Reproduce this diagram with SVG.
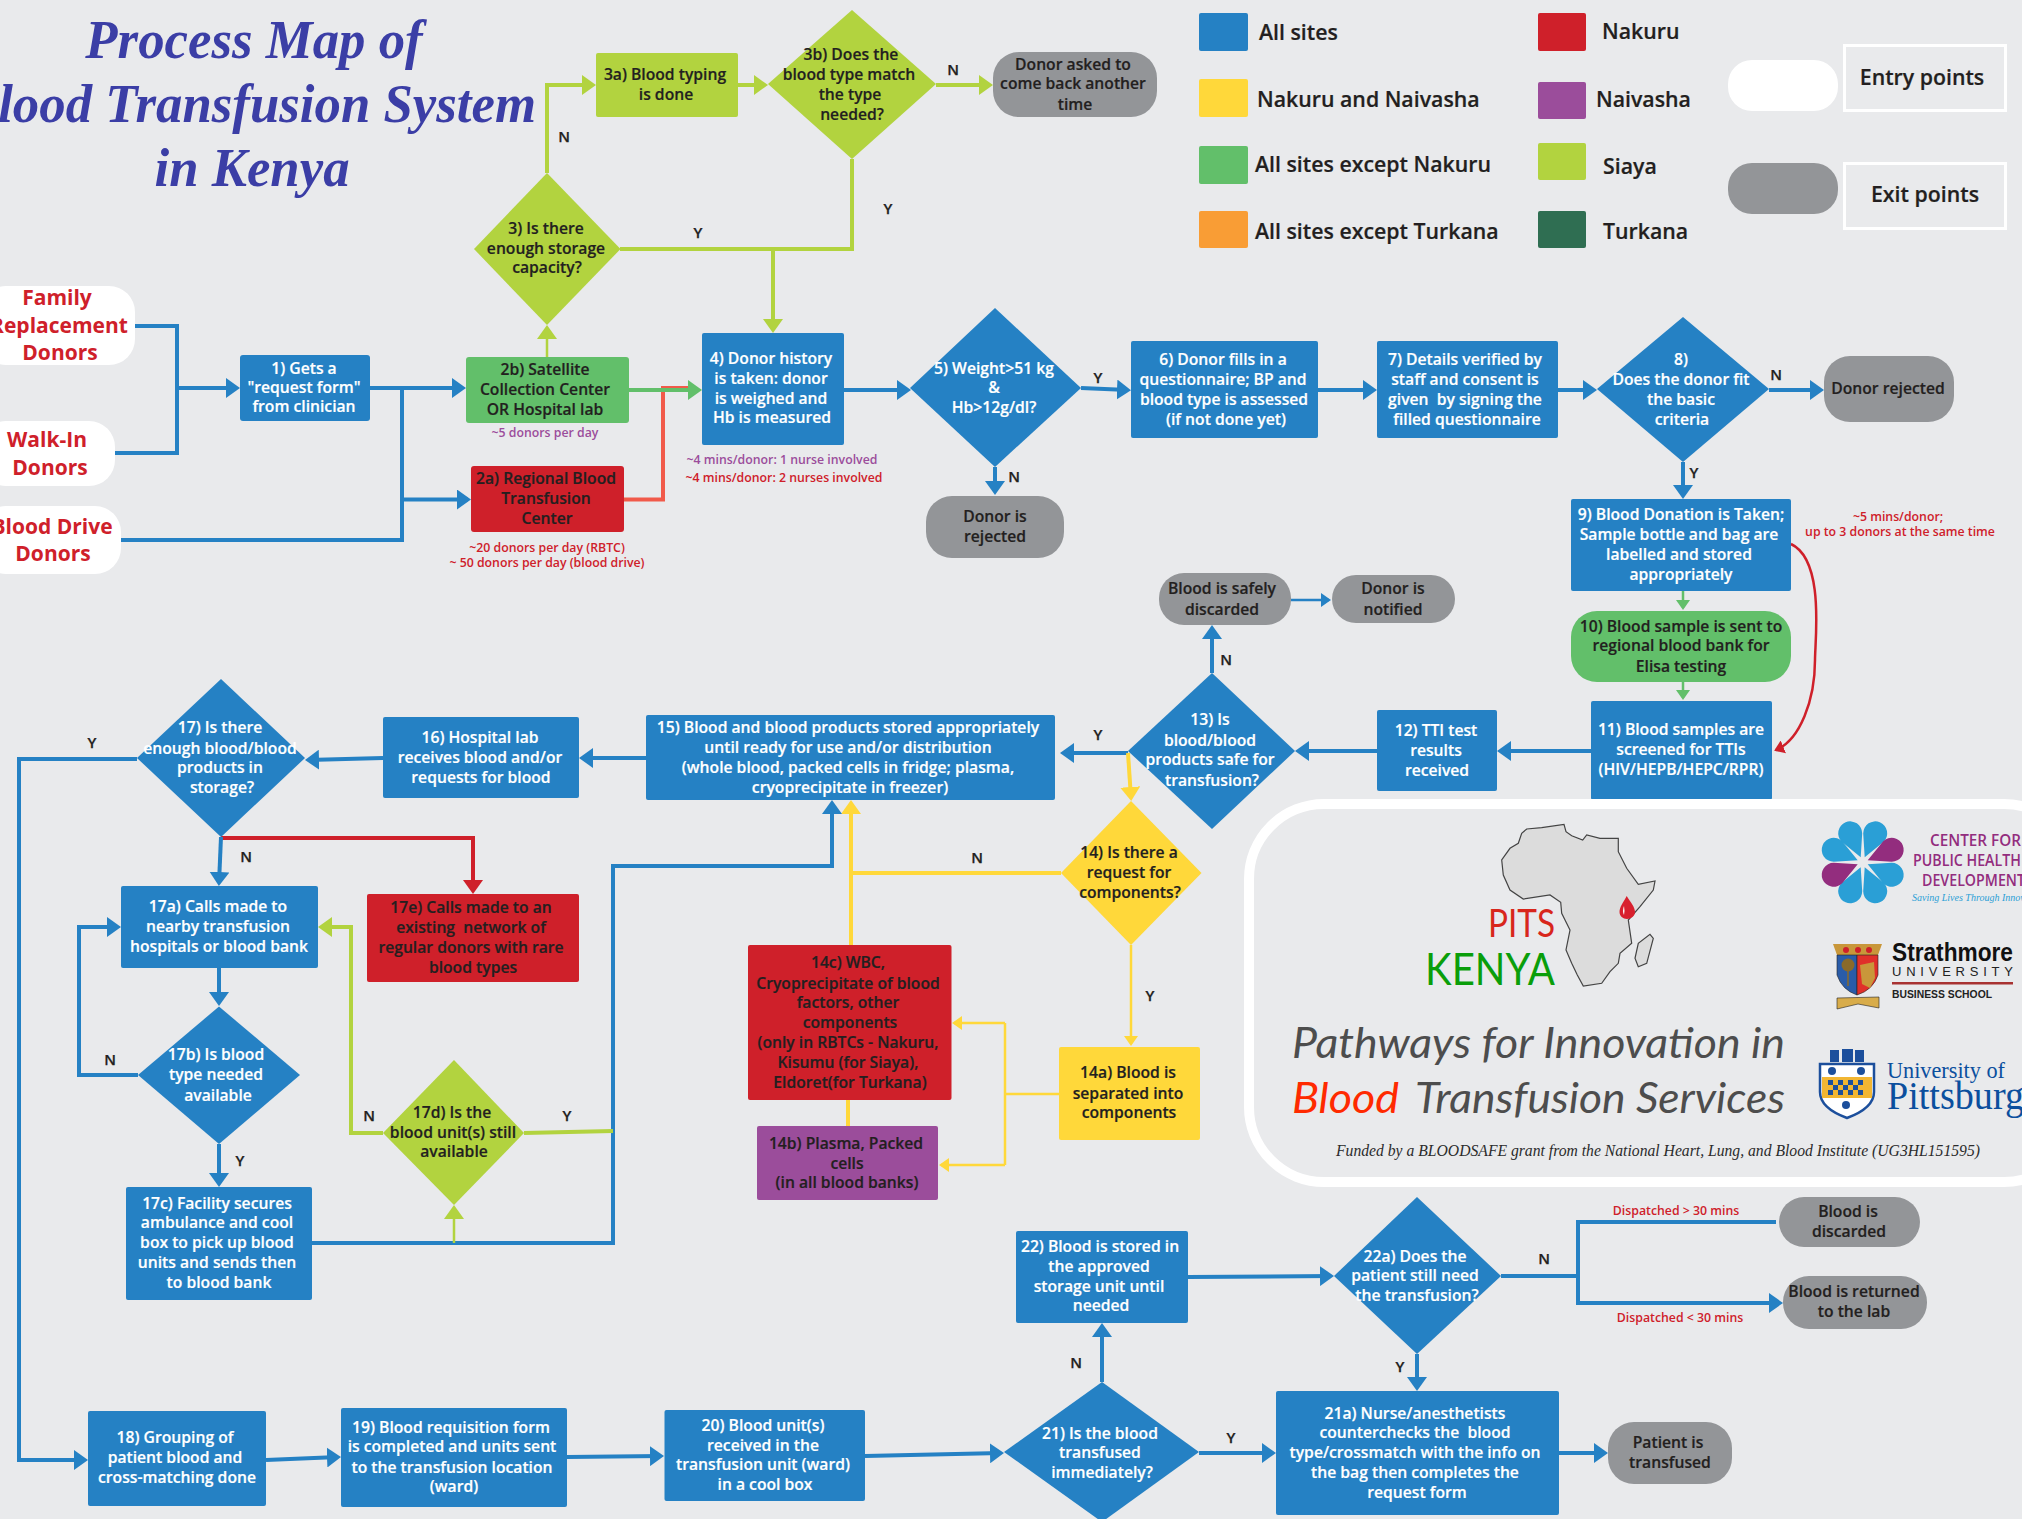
<svg xmlns="http://www.w3.org/2000/svg" width="2022" height="1519" viewBox="0 0 2022 1519">
<style>
text{font-family:"Open Sans","Liberation Sans",sans-serif;font-weight:600;font-size:15.7px;text-anchor:middle;fill:#231f20}
.w text{fill:#fff;stroke:#fff;stroke-width:.2}
.d text{stroke:#231f20;stroke-width:.2}
.small{font-size:12.3px}
.r{fill:#cf202a}
.p{fill:#9b4d9b}
.lbl{font-size:15px;stroke:#231f20;stroke-width:.25}
.ent{font-size:21px;font-weight:700;fill:#cf202a}
.lg{font-size:21.3px;text-anchor:start;stroke:#231f20;stroke-width:.2}
.ttl{font-family:"Liberation Serif",serif;font-style:italic;font-weight:700;font-size:55px;fill:#3b3ea6}
.blue{fill:#2581c4}.lime{fill:#b2d33f}.red{fill:#cf202a}.yel{fill:#ffd83a}.grn{fill:#62bf6a}.pur{fill:#9b4d9b}.gry{fill:#939598}.wht{fill:#fff}
.c{fill:none;stroke-width:4;stroke-linejoin:miter}
.cb{stroke:#2581c4}.cl{stroke:#b2d33f}.cy{stroke:#ffd83a}.cg{stroke:#62bf6a}.cr{stroke:#cf202a}.co{stroke:#f15a4a}
.t{stroke-width:2.5}
.pw{font-family:"Lato","Liberation Sans",sans-serif;font-style:italic;font-weight:400;font-size:43px;fill:#4d4d4d;text-anchor:start}
.pit{font-family:"Lato","Liberation Sans",sans-serif;font-weight:400;text-anchor:start}
.cp{font-size:15.5px;fill:#932d7e;text-anchor:start}
</style>
<defs>
<marker id="ab" markerUnits="userSpaceOnUse" markerWidth="14" markerHeight="20" viewBox="0 0 14 20" refX="11" refY="10" orient="auto"><path d="M0 0L14 10L0 20Z" fill="#2581c4"/></marker>
<marker id="al" markerUnits="userSpaceOnUse" markerWidth="14" markerHeight="20" viewBox="0 0 14 20" refX="11" refY="10" orient="auto"><path d="M0 0L14 10L0 20Z" fill="#b2d33f"/></marker>
<marker id="ag" markerUnits="userSpaceOnUse" markerWidth="14" markerHeight="20" viewBox="0 0 14 20" refX="11" refY="10" orient="auto"><path d="M0 0L14 10L0 20Z" fill="#62bf6a"/></marker>
<marker id="ay" markerUnits="userSpaceOnUse" markerWidth="14" markerHeight="20" viewBox="0 0 14 20" refX="11" refY="10" orient="auto"><path d="M0 0L14 10L0 20Z" fill="#ffd83a"/></marker>
<marker id="ar" markerUnits="userSpaceOnUse" markerWidth="14" markerHeight="20" viewBox="0 0 14 20" refX="11" refY="10" orient="auto"><path d="M0 0L14 10L0 20Z" fill="#cf202a"/></marker>
<marker id="sy" markerUnits="userSpaceOnUse" markerWidth="10" markerHeight="14" viewBox="0 0 10 14" refX="8" refY="7" orient="auto"><path d="M0 0L10 7L0 14Z" fill="#ffd83a"/></marker>
<marker id="sg" markerUnits="userSpaceOnUse" markerWidth="10" markerHeight="14" viewBox="0 0 10 14" refX="8" refY="7" orient="auto"><path d="M0 0L10 7L0 14Z" fill="#62bf6a"/></marker>
<marker id="sr" markerUnits="userSpaceOnUse" markerWidth="10" markerHeight="14" viewBox="0 0 10 14" refX="8" refY="7" orient="auto"><path d="M0 0L10 7L0 14Z" fill="#cf202a"/></marker>
<marker id="sb" markerUnits="userSpaceOnUse" markerWidth="10" markerHeight="14" viewBox="0 0 10 14" refX="8" refY="7" orient="auto"><path d="M0 0L10 7L0 14Z" fill="#2581c4"/></marker>
<path id="petal" d="M2,-5L.5,-29A12,12 0 1 1 21,-20.500Z"/>
</defs>
<rect width="2022" height="1519" fill="#e9eaec"/>

<g id="title">
<text class="ttl" transform="translate(254 58) scale(.96 1)">Process Map of</text>
<text class="ttl" transform="translate(536 122) scale(.96 1)" style="text-anchor:end">Blood Transfusion System</text>
<text class="ttl" transform="translate(252 186) scale(.96 1)">in Kenya</text>
</g>

<g id="legend">
<rect x="1199" y="13" width="49" height="38" rx="2" class="blue"/><text class="lg" x="1259" y="40">All sites</text>
<rect x="1199" y="79" width="49" height="38" rx="2" class="yel"/><text class="lg" x="1257" y="107">Nakuru and Naivasha</text>
<rect x="1199" y="146" width="49" height="38" rx="2" class="grn"/><text class="lg" x="1255" y="172">All sites except Nakuru</text>
<rect x="1199" y="211" width="49" height="37" rx="2" fill="#f99d35"/><text class="lg" x="1255" y="239">All sites except Turkana</text>
<rect x="1538" y="13" width="48" height="38" rx="2" class="red"/><text class="lg" x="1602" y="39">Nakuru</text>
<rect x="1538" y="82" width="48" height="37" rx="2" class="pur"/><text class="lg" x="1596" y="107">Naivasha</text>
<rect x="1538" y="143" width="48" height="37" rx="2" class="lime"/><text class="lg" x="1603" y="174">Siaya</text>
<rect x="1538" y="211" width="48" height="37" rx="2" fill="#2f6e52"/><text class="lg" x="1603" y="239">Turkana</text>
<rect x="1728" y="60" width="110" height="51" rx="24" class="wht"/>
<rect x="1844.500" y="45.500" width="161" height="65" fill="none" stroke="#fff" stroke-width="3"/>
<text class="lg" x="1922" y="85" style="text-anchor:middle">Entry points</text>
<rect x="1728" y="163" width="110" height="51" rx="24" class="gry"/>
<rect x="1844.500" y="163.500" width="161" height="65" fill="none" stroke="#fff" stroke-width="3"/>
<text class="lg" x="1925" y="202" style="text-anchor:middle">Exit points</text>
</g>

<g id="connectors">
<path class="c cb" d="M135 326H177V453H115"/>
<path class="c cb" d="M177 388H237" marker-end="url(#ab)"/>
<path class="c cb" d="M370 388H463" marker-end="url(#ab)"/>
<path class="c cb" d="M121 540H402V388"/>
<path class="c cb" d="M402 499.500H468" marker-end="url(#ab)"/>
<path class="c cl t" d="M547 357V328" marker-end="url(#al)"/>
<path class="c cl" d="M547 173V85H593" marker-end="url(#al)"/>
<path class="c cl" d="M738 85H765" marker-end="url(#al)"/>
<path class="c cl" d="M936 85H990" marker-end="url(#al)"/>
<path class="c cl" d="M852 159V249H620"/>
<path class="c cl" d="M773 249V330" marker-end="url(#al)"/>
<path class="c co" d="M624 499.500H663V388H692"/>
<path class="c cg" d="M629 390H699" marker-end="url(#ag)"/>
<path class="c cb" d="M844 390H908" marker-end="url(#ab)"/>
<path class="c cb" d="M995 467V492" marker-end="url(#ab)"/>
<path class="c cb" d="M1081 388L1128 390" marker-end="url(#ab)"/>
<path class="c cb" d="M1318 390H1374" marker-end="url(#ab)"/>
<path class="c cb" d="M1558 390H1594" marker-end="url(#ab)"/>
<path class="c cb" d="M1769 390H1821" marker-end="url(#ab)"/>
<path class="c cb" d="M1683 462V496" marker-end="url(#ab)"/>
<path class="c cg t" d="M1683 591V608" marker-end="url(#sg)"/>
<path class="c cg t" d="M1683 682V698" marker-end="url(#sg)"/>
<path class="c cr t" d="M1791 544C1825 560 1815 640 1815 660C1815 700 1800 740 1776 750" marker-end="url(#sr)"/>
<path class="c cb" d="M1591 751H1500" marker-end="url(#ab)"/>
<path class="c cb" d="M1377 751H1298" marker-end="url(#ab)"/>
<path class="c cb" d="M1128 753H1063" marker-end="url(#ab)"/>
<path class="c cb" d="M1212 673V628" marker-end="url(#ab)"/>
<path class="c cb t" d="M1291 600H1329" marker-end="url(#sb)"/>
<path class="c cy" d="M1128 753L1131 798" marker-end="url(#ay)"/>
<path class="c cy" d="M1061 873H851"/>
<path class="c cy" d="M851 945V803" marker-end="url(#ay)"/>
<path class="c cy t" d="M1131 945V1044" marker-end="url(#sy)"/>
<path class="c cy t" d="M1059 1094H1005"/>
<path class="c cy t" d="M1005 1023V1165"/>
<path class="c cy t" d="M1005 1023H954" marker-end="url(#sy)"/>
<path class="c cy t" d="M1005 1165H941" marker-end="url(#sy)"/>
<path class="c cy" d="M848 1100V1126"/>
<path class="c cb" d="M646 758H582" marker-end="url(#ab)"/>
<path class="c cb" d="M383 758L308 760" marker-end="url(#ab)"/>
<path class="c cb" d="M137 759H19V1460H85" marker-end="url(#ab)"/>
<path class="c cr" d="M221 838H473V891" marker-end="url(#ar)"/>
<path class="c cb" d="M221 837L219 883" marker-end="url(#ab)"/>
<path class="c cb" d="M219 968V1003" marker-end="url(#ab)"/>
<path class="c cb" d="M138 1075H79V927H118" marker-end="url(#ab)"/>
<path class="c cb" d="M219 1144V1184" marker-end="url(#ab)"/>
<path class="c cb" d="M312 1243H613V866H832V803" marker-end="url(#ab)"/>
<path class="c cl t" d="M454 1243V1208" marker-end="url(#al)"/>
<path class="c cl" d="M524 1133L613 1131"/>
<path class="c cl" d="M383 1133H351V927H321" marker-end="url(#al)"/>
<path class="c cb" d="M266 1460L338 1457" marker-end="url(#ab)"/>
<path class="c cb" d="M567 1457L661 1456" marker-end="url(#ab)"/>
<path class="c cb" d="M865 1456L1001 1453" marker-end="url(#ab)"/>
<path class="c cb" d="M1102 1382V1326" marker-end="url(#ab)"/>
<path class="c cb" d="M1199 1453H1273" marker-end="url(#ab)"/>
<path class="c cb" d="M1559 1453H1605" marker-end="url(#ab)"/>
<path class="c cb" d="M1417 1354V1388" marker-end="url(#ab)"/>
<path class="c cb" d="M1188 1277L1331 1276" marker-end="url(#ab)"/>
<path class="c cb" d="M1501 1276H1578"/>
<path class="c cb" d="M1776 1222H1578V1303H1780" marker-end="url(#ab)"/>
</g>

<g id="connector-labels">
<text class="lbl" x="564" y="142">N</text>
<text class="lbl" x="953" y="75">N</text>
<text class="lbl" x="888" y="214">Y</text>
<text class="lbl" x="698" y="238">Y</text>
<text class="lbl" x="1098" y="383">Y</text>
<text class="lbl" x="1014" y="482">N</text>
<text class="lbl" x="1776" y="380">N</text>
<text class="lbl" x="1694" y="478">Y</text>
<text class="lbl" x="92" y="748">Y</text>
<text class="lbl" x="246" y="862">N</text>
<text class="lbl" x="110" y="1065">N</text>
<text class="lbl" x="240" y="1166">Y</text>
<text class="lbl" x="369" y="1121">N</text>
<text class="lbl" x="567" y="1121">Y</text>
<text class="lbl" x="1226" y="665">N</text>
<text class="lbl" x="1098" y="740">Y</text>
<text class="lbl" x="977" y="863">N</text>
<text class="lbl" x="1150" y="1001">Y</text>
<text class="lbl" x="1544" y="1264">N</text>
<text class="lbl" x="1400" y="1372">Y</text>
<text class="lbl" x="1076" y="1368">N</text>
<text class="lbl" x="1231" y="1443">Y</text>
<text class="small p" x="545" y="437">~5 donors per day</text>
<text class="small p" x="782" y="464">~4 mins/donor: 1 nurse involved</text>
<text class="small r" x="784" y="482">~4 mins/donor: 2 nurses involved</text>
<text class="small r" x="547" y="552">~20 donors per day (RBTC)</text>
<text class="small r" x="547" y="567">~ 50 donors per day (blood drive)</text>
<text class="small r" x="1898" y="521">~5 mins/donor;</text>
<text class="small r" x="1900" y="536">up to 3 donors at the same time</text>
<text class="small r" x="1676" y="1215">Dispatched &gt; 30 mins</text>
<text class="small r" x="1680" y="1322">Dispatched &lt; 30 mins</text>
</g>

<g id="entry-family"><rect x="-20" y="286" width="155" height="79" rx="26" class="wht"/><text class="ent" x="57" y="305">Family</text><text class="ent" x="59" y="333">Replacement</text><text class="ent" x="60" y="360">Donors</text></g>
<g id="entry-walkin"><rect x="-20" y="421" width="135" height="65" rx="26" class="wht"/><text class="ent" x="47" y="447">Walk-In</text><text class="ent" x="50" y="475">Donors</text></g>
<g id="entry-drive"><rect x="-20" y="506" width="141" height="68" rx="26" class="wht"/><text class="ent" x="52" y="534">Blood Drive</text><text class="ent" x="53" y="561">Donors</text></g>

<g id="n1" class="w"><rect x="240" y="355" width="130" height="66" rx="3" class="blue"/><text x="304" y="374">1) Gets a</text><text x="304" y="393">"request form"</text><text x="304" y="412">from clinician</text></g>
<g id="n2b" class="d"><rect x="466" y="357" width="163" height="66" rx="3" class="grn"/><text x="545" y="375">2b) Satellite</text><text x="545" y="395">Collection Center</text><text x="545" y="415">OR Hospital lab</text></g>
<g id="n2a" class="d"><rect x="471" y="466" width="153" height="66" rx="3" class="red"/><text x="546" y="484">2a) Regional Blood</text><text x="546" y="504">Transfusion</text><text x="547" y="524">Center</text></g>
<g id="n3" class="d"><path d="M547 173L620.500 249L547 325L474 249Z" class="lime"/><text x="546" y="234">3) Is there</text><text x="546" y="254">enough storage</text><text x="547" y="273">capacity?</text></g>
<g id="n3a" class="d"><rect x="596" y="53" width="142" height="64" rx="2" class="lime"/><text x="665" y="80">3a) Blood typing</text><text x="666" y="100">is done</text></g>
<g id="n3b" class="d"><path d="M852 10L936 84L852 159L768 84Z" class="lime"/><text x="851" y="60">3b) Does the</text><text x="849" y="80">blood type match</text><text x="850" y="100">the type</text><text x="852" y="120">needed?</text></g>
<g id="donor-asked" class="d"><rect x="993" y="52" width="164" height="65" rx="26" class="gry"/><text x="1073" y="70">Donor asked to</text><text x="1073" y="89">come back another</text><text x="1075" y="110">time</text></g>
<g id="n4" class="w"><rect x="702" y="333" width="142" height="112" rx="2" class="blue"/><text x="771" y="364">4) Donor history</text><text x="771" y="384">is taken: donor</text><text x="771" y="404">is weighed and</text><text x="772" y="423">Hb is measured</text></g>
<g id="n5" class="w"><path d="M995 308L1081 388L995 467L910 388Z" class="blue"/><text x="994" y="374">5) Weight&gt;51 kg</text><text x="994" y="393">&amp;</text><text x="994" y="413">Hb&gt;12g/dl?</text></g>
<g id="rej5" class="d"><rect x="926" y="496" width="138" height="62" rx="26" class="gry"/><text x="995" y="522">Donor is</text><text x="995" y="542">rejected</text></g>
<g id="n6" class="w"><rect x="1131" y="341" width="187" height="97" rx="2" class="blue"/><text x="1223" y="365">6) Donor fills in a</text><text x="1223" y="385">questionnaire; BP and</text><text x="1224" y="405">blood type is assessed</text><text x="1226" y="425">(if not done yet)</text></g>
<g id="n7" class="w"><rect x="1377" y="341" width="181" height="97" rx="2" class="blue"/><text x="1465" y="365">7) Details verified by</text><text x="1465" y="385">staff and consent is</text><text x="1465" y="405" xml:space="preserve">given  by signing the</text><text x="1467" y="425">filled questionnaire</text></g>
<g id="n8" class="w"><path d="M1683 317L1769 389L1683 462L1597 389Z" class="blue"/><text x="1681" y="365">8)</text><text x="1681" y="385">Does the donor fit</text><text x="1681" y="405">the basic</text><text x="1682" y="425">criteria</text></g>
<g id="rej8" class="d"><rect x="1824" y="356" width="130" height="66" rx="26" class="gry"/><text x="1888" y="394">Donor rejected</text></g>
<g id="n9" class="w"><rect x="1571" y="499" width="220" height="92" rx="2" class="blue"/><text x="1681" y="520">9) Blood Donation is Taken;</text><text x="1679" y="540">Sample bottle and bag are</text><text x="1679" y="560">labelled and stored</text><text x="1681" y="580">appropriately</text></g>
<g id="n10" class="d"><rect x="1571" y="611" width="220" height="71" rx="26" class="grn"/><text x="1681" y="632">10) Blood sample is sent to</text><text x="1681" y="651">regional blood bank for</text><text x="1681" y="672">Elisa testing</text></g>
<g id="n11" class="w"><rect x="1591" y="701" width="181" height="99" rx="2" class="blue"/><text x="1681" y="735">11) Blood samples are</text><text x="1681" y="755">screened for TTIs</text><text x="1681" y="775">(HIV/HEPB/HEPC/RPR)</text></g>
<g id="n12" class="w"><rect x="1377" y="710" width="120" height="81" rx="2" class="blue"/><text x="1436" y="736">12) TTI test</text><text x="1436" y="756">results</text><text x="1437" y="776">received</text></g>
<g id="n13" class="w"><path d="M1212 673L1295 751L1212 829L1128 751Z" class="blue"/><text x="1210" y="725">13) Is</text><text x="1210" y="746">blood/blood</text><text x="1210" y="765">products safe for</text><text x="1212" y="786">transfusion?</text></g>
<g id="discard" class="d"><rect x="1159" y="573" width="132" height="52" rx="25" class="gry"/><text x="1222" y="594">Blood is safely</text><text x="1222" y="615">discarded</text></g>
<g id="notified" class="d"><rect x="1332" y="575" width="123" height="48" rx="24" class="gry"/><text x="1393" y="594">Donor is</text><text x="1393" y="615">notified</text></g>
<g id="n15" class="w"><rect x="646" y="715" width="409" height="85" rx="2" class="blue"/><text x="848" y="733">15) Blood and blood products stored appropriately</text><text x="848" y="753">until ready for use and/or distribution</text><text x="848" y="773">(whole blood, packed cells in fridge; plasma,</text><text x="850" y="793">cryoprecipitate in freezer)</text></g>
<g id="n16" class="w"><rect x="383" y="717" width="196" height="81" rx="2" class="blue"/><text x="480" y="743">16) Hospital lab</text><text x="480" y="763">receives blood and/or</text><text x="481" y="783">requests for blood</text></g>
<g id="n17" class="w"><path d="M221 679L305 758L221 837L137 758Z" class="blue"/><text x="220" y="733">17) Is there</text><text x="220" y="754">enough blood/blood</text><text x="220" y="773">products in</text><text x="222" y="793">storage?</text></g>
<g id="n14" class="d"><path d="M1131 801L1201.500 873L1131 945L1061 873Z" class="yel"/><text x="1129" y="858">14) Is there a</text><text x="1129" y="878">request for</text><text x="1130" y="898">components?</text></g>
<g id="n14a" class="d"><rect x="1059" y="1047" width="141" height="93" rx="2" class="yel"/><text x="1128" y="1078">14a) Blood is</text><text x="1128" y="1099">separated into</text><text x="1129" y="1118">components</text></g>
<g id="n14c" class="d"><rect x="748" y="945" width="203.500" height="155" rx="2" class="red"/><text x="848" y="968">14c) WBC,</text><text x="848" y="989">Cryoprecipitate of blood</text><text x="848" y="1008">factors, other</text><text x="850" y="1028">components</text><text x="848" y="1048">(only in RBTCs - Nakuru,</text><text x="848" y="1068">Kisumu (for Siaya),</text><text x="850" y="1088">Eldoret(for Turkana)</text></g>
<g id="n14b" class="d"><rect x="757" y="1126" width="181" height="74" rx="2" class="pur"/><text x="846" y="1149">14b) Plasma, Packed</text><text x="847" y="1169">cells</text><text x="847" y="1188">(in all blood banks)</text></g>
<g id="n17a" class="w"><rect x="121" y="886" width="197" height="82" rx="2" class="blue"/><text x="218" y="912">17a) Calls made to</text><text x="218" y="932">nearby transfusion</text><text x="219" y="952">hospitals or blood bank</text></g>
<g id="n17e" class="d"><rect x="367" y="894" width="212" height="88" rx="2" class="red"/><text x="471" y="913">17e) Calls made to an</text><text x="471" y="933" xml:space="preserve">existing  network of</text><text x="471" y="953">regular donors with rare</text><text x="473" y="973">blood types</text></g>
<g id="n17b" class="w"><path d="M219 1006.500L300 1075L219 1144L138 1075Z" class="blue"/><text x="216" y="1060">17b) Is blood</text><text x="216" y="1080">type needed</text><text x="218" y="1101">available</text></g>
<g id="n17d" class="d"><path d="M454 1060L524 1133L454 1205L383 1133Z" class="lime"/><text x="452" y="1118">17d) Is the</text><text x="453" y="1138">blood unit(s) still</text><text x="454" y="1157">available</text></g>
<g id="n17c" class="w"><rect x="126" y="1187" width="186" height="113" rx="2" class="blue"/><text x="217" y="1209">17c) Facility secures</text><text x="217" y="1228">ambulance and cool</text><text x="217" y="1248">box to pick up blood</text><text x="217" y="1268">units and sends then</text><text x="219" y="1288">to blood bank</text></g>
<g id="n18" class="w"><rect x="88" y="1411" width="178" height="95" rx="2" class="blue"/><text x="175" y="1443">18) Grouping of</text><text x="175" y="1463">patient blood and</text><text x="177" y="1483">cross-matching done</text></g>
<g id="n19" class="w"><rect x="341" y="1408" width="226" height="99" rx="2" class="blue"/><text x="451" y="1433">19) Blood requisition form</text><text x="452" y="1452">is completed and units sent</text><text x="452" y="1473">to the transfusion location</text><text x="454" y="1492">(ward)</text></g>
<g id="n20" class="w"><rect x="664.500" y="1410" width="200.500" height="91" rx="2" class="blue"/><text x="763" y="1431">20) Blood unit(s)</text><text x="763" y="1451">received in the</text><text x="763" y="1470">transfusion unit (ward)</text><text x="765" y="1490">in a cool box</text></g>
<g id="n21" class="w"><path d="M1102 1382L1199 1452L1102 1522L1004 1452Z" class="blue"/><text x="1100" y="1439">21) Is the blood</text><text x="1100" y="1458">transfused</text><text x="1102" y="1478">immediately?</text></g>
<g id="n21a" class="w"><rect x="1276" y="1391" width="283" height="124" rx="2" class="blue"/><text x="1415" y="1419">21a) Nurse/anesthetists</text><text x="1415" y="1438" xml:space="preserve">counterchecks the  blood</text><text x="1415" y="1458">type/crossmatch with the info on</text><text x="1415" y="1478">the bag then completes the</text><text x="1417" y="1498">request form</text></g>
<g id="patient" class="d"><rect x="1608" y="1422" width="124" height="62" rx="26" class="gry"/><text x="1668" y="1448">Patient is</text><text x="1670" y="1468">transfused</text></g>
<g id="n22" class="w"><rect x="1016" y="1231" width="172" height="92" rx="2" class="blue"/><text x="1100" y="1252">22) Blood is stored in</text><text x="1099" y="1272">the approved</text><text x="1099" y="1292">storage unit until</text><text x="1101" y="1311">needed</text></g>
<g id="n22a" class="w"><path d="M1417 1197L1501 1276L1417 1354L1334 1276Z" class="blue"/><text x="1415" y="1262">22a) Does the</text><text x="1415" y="1281">patient still need</text><text x="1417" y="1301">the transfusion?</text></g>
<g id="discarded" class="d"><rect x="1779" y="1197" width="141" height="50" rx="25" class="gry"/><text x="1848" y="1217">Blood is</text><text x="1849" y="1237">discarded</text></g>
<g id="returned" class="d"><rect x="1783" y="1276" width="144" height="53" rx="26" class="gry"/><text x="1854" y="1297">Blood is returned</text><text x="1854" y="1317">to the lab</text></g>

<g id="logo-panel">
<rect x="1249" y="804" width="830" height="378" rx="75" fill="none" stroke="#fff" stroke-width="10"/>
<path d="M1526.700 829L1541.700 827.700L1564 824.300L1566 831.700L1571.700 835.700L1582.700 840L1586.700 835L1600 838.300L1618.300 838.300L1618.300 851.700L1626.700 868.300L1638.300 884.300L1655 881L1653.300 890L1640 906.700L1628.300 920L1631.700 943.300L1620 953.300L1618.300 963.300L1610 971.700L1601.700 983.300L1583.300 986L1577.300 975L1571.700 963.300L1566 950L1570 930L1561.700 913.300L1560.700 902.300L1550 895L1523.300 899L1510 890L1503.300 875L1501.700 860L1510 848.300L1518.300 843.300L1521.700 833.300Z" fill="#dcdcdc" stroke="#444" stroke-width="1.200"/>
<path d="M1650 934.300L1653.300 938.300L1646.700 963.300L1638.300 966.700L1635 958.300L1638.300 943.300Z" fill="#dcdcdc" stroke="#444" stroke-width="1.200"/>
<path d="M1626.700 896C1631 903 1635 907 1635 912C1635 916 1631 919 1627 919C1623 919 1619.500 916 1619.500 912C1619.500 907 1623 903 1626.700 896Z" fill="#d8202e"/>
<path d="M1624 906Q1622 911 1624 915Q1625 911 1624 906Z" fill="#fff"/>
<text class="pit" x="1488" y="937" style="fill:#d8261c;font-size:38px" textLength="67" lengthAdjust="spacingAndGlyphs">PITS</text>
<text class="pit" x="1425" y="985" style="fill:#0a9e0a;font-size:44px" textLength="130" lengthAdjust="spacingAndGlyphs">KENYA</text>
<text class="pw" x="1292" y="1058" textLength="493" lengthAdjust="spacingAndGlyphs">Pathways for Innovation in</text>
<text class="pw" x="1292" y="1113" style="fill:#ff2a00" textLength="107" lengthAdjust="spacingAndGlyphs">Blood</text>
<text class="pw" x="1415" y="1113" textLength="370" lengthAdjust="spacingAndGlyphs">Transfusion Services</text>
<text x="1658" y="1156" style="font-family:'Liberation Serif',serif;font-style:italic;font-weight:400;font-size:17px;fill:#2b2b2b" textLength="644" lengthAdjust="spacingAndGlyphs">Funded by a BLOODSAFE grant from the National Heart, Lung, and Blood Institute (UG3HL151595)</text>
<g id="logo-cphd" transform="translate(1862.700 862.300)" fill="#2a9fd6">
<use href="#petal"/><use href="#petal" transform="rotate(90)"/><use href="#petal" transform="rotate(180)"/><use href="#petal" transform="rotate(270)"/>
<use href="#petal" transform="matrix(0 -1 -1 0 0 0)" fill="#932d7e"/><use href="#petal" transform="rotate(90) matrix(0 -1 -1 0 0 0)"/><use href="#petal" transform="rotate(180) matrix(0 -1 -1 0 0 0)" fill="#932d7e"/><use href="#petal" transform="rotate(270) matrix(0 -1 -1 0 0 0)"/>
</g>
<text class="cp" x="1930" y="846" textLength="91" lengthAdjust="spacingAndGlyphs">CENTER FOR</text>
<text class="cp" x="1913" y="866" textLength="108" lengthAdjust="spacingAndGlyphs">PUBLIC HEALTH</text>
<text class="cp" x="1922" y="886" textLength="103" lengthAdjust="spacingAndGlyphs">DEVELOPMENT</text>
<text x="1912" y="901" style="font-family:'Liberation Serif',serif;font-style:italic;font-weight:400;font-size:10px;fill:#2a9fd6;text-anchor:start">Saving Lives Through Innovation</text>
<g id="logo-strathmore">
<path d="M1833 944H1882L1878 955H1837Z" fill="#c9973a"/>
<circle cx="1846" cy="950" r="3" fill="#cf202a"/><circle cx="1858" cy="950" r="3" fill="#cf202a"/><circle cx="1869" cy="950" r="3" fill="#cf202a"/>
<path d="M1837 955H1857V995Q1842 990 1837 975Z" fill="#2a5ca8" stroke="#222" stroke-width=".6"/>
<path d="M1857 955H1878V975Q1873 990 1857 995Z" fill="#e0302a" stroke="#222" stroke-width=".6"/>
<circle cx="1848" cy="965" r="6.500" fill="#8a6a2a"/><path d="M1848 971V986" stroke="#8a6a2a" stroke-width="1.500"/>
<path d="M1860 965L1874 962L1875 978L1870 988L1862 984Z" fill="#c9973a"/>
<path d="M1837 998L1879 997V1008L1858 1004L1837 1009Z" fill="#d8ac4a" stroke="#222" stroke-width=".6"/>
</g>
<text x="1892" y="961" style="font-family:'Liberation Sans',sans-serif;font-weight:700;font-size:25px;fill:#111;text-anchor:start" textLength="121" lengthAdjust="spacingAndGlyphs">Strathmore</text>
<text x="1892" y="976" style="font-family:'Liberation Sans',sans-serif;font-weight:400;font-size:13px;fill:#222;text-anchor:start" textLength="121" lengthAdjust="spacing">UNIVERSITY</text>
<rect x="1892" y="982" width="121" height="2.500" fill="#a83232"/>
<text x="1892" y="998" style="font-family:'Liberation Sans',sans-serif;font-weight:700;font-size:11px;fill:#222;text-anchor:start" textLength="100" lengthAdjust="spacingAndGlyphs">BUSINESS SCHOOL</text>
<g id="logo-pitt">
<path d="M1830 1062V1050H1839V1062ZM1842 1062V1049H1853V1062ZM1855 1062V1050H1864V1062Z" fill="#1c4f9c"/>
<path d="M1820 1064H1874V1092Q1874 1108 1847 1118Q1820 1108 1820 1092Z" fill="#fff" stroke="#1c4f9c" stroke-width="2.500"/>
<rect x="1822" y="1077" width="50" height="21" fill="#f2b632"/>
<path d="M1828 1080h5v5h-5zM1838 1080h5v5h-5zM1848 1080h5v5h-5zM1858 1080h5v5h-5zM1833 1085h5v5h-5zM1843 1085h5v5h-5zM1853 1085h5v5h-5zM1828 1090h5v5h-5zM1838 1090h5v5h-5zM1848 1090h5v5h-5zM1858 1090h5v5h-5z" fill="#1c4f9c"/>
<circle cx="1832" cy="1071" r="4" fill="#1c4f9c"/><circle cx="1861" cy="1071" r="4" fill="#1c4f9c"/><circle cx="1846" cy="1105" r="4" fill="#1c4f9c"/>
</g>
<text x="1887" y="1078" style="font-family:'Liberation Serif',serif;font-weight:400;font-size:24px;fill:#0b4f9e;text-anchor:start" textLength="118" lengthAdjust="spacingAndGlyphs">University of</text>
<text x="1887" y="1109" style="font-family:'Liberation Serif',serif;font-weight:400;font-size:40px;fill:#0b4f9e;text-anchor:start" textLength="156" lengthAdjust="spacingAndGlyphs">Pittsburgh</text>
</g>
</svg>
